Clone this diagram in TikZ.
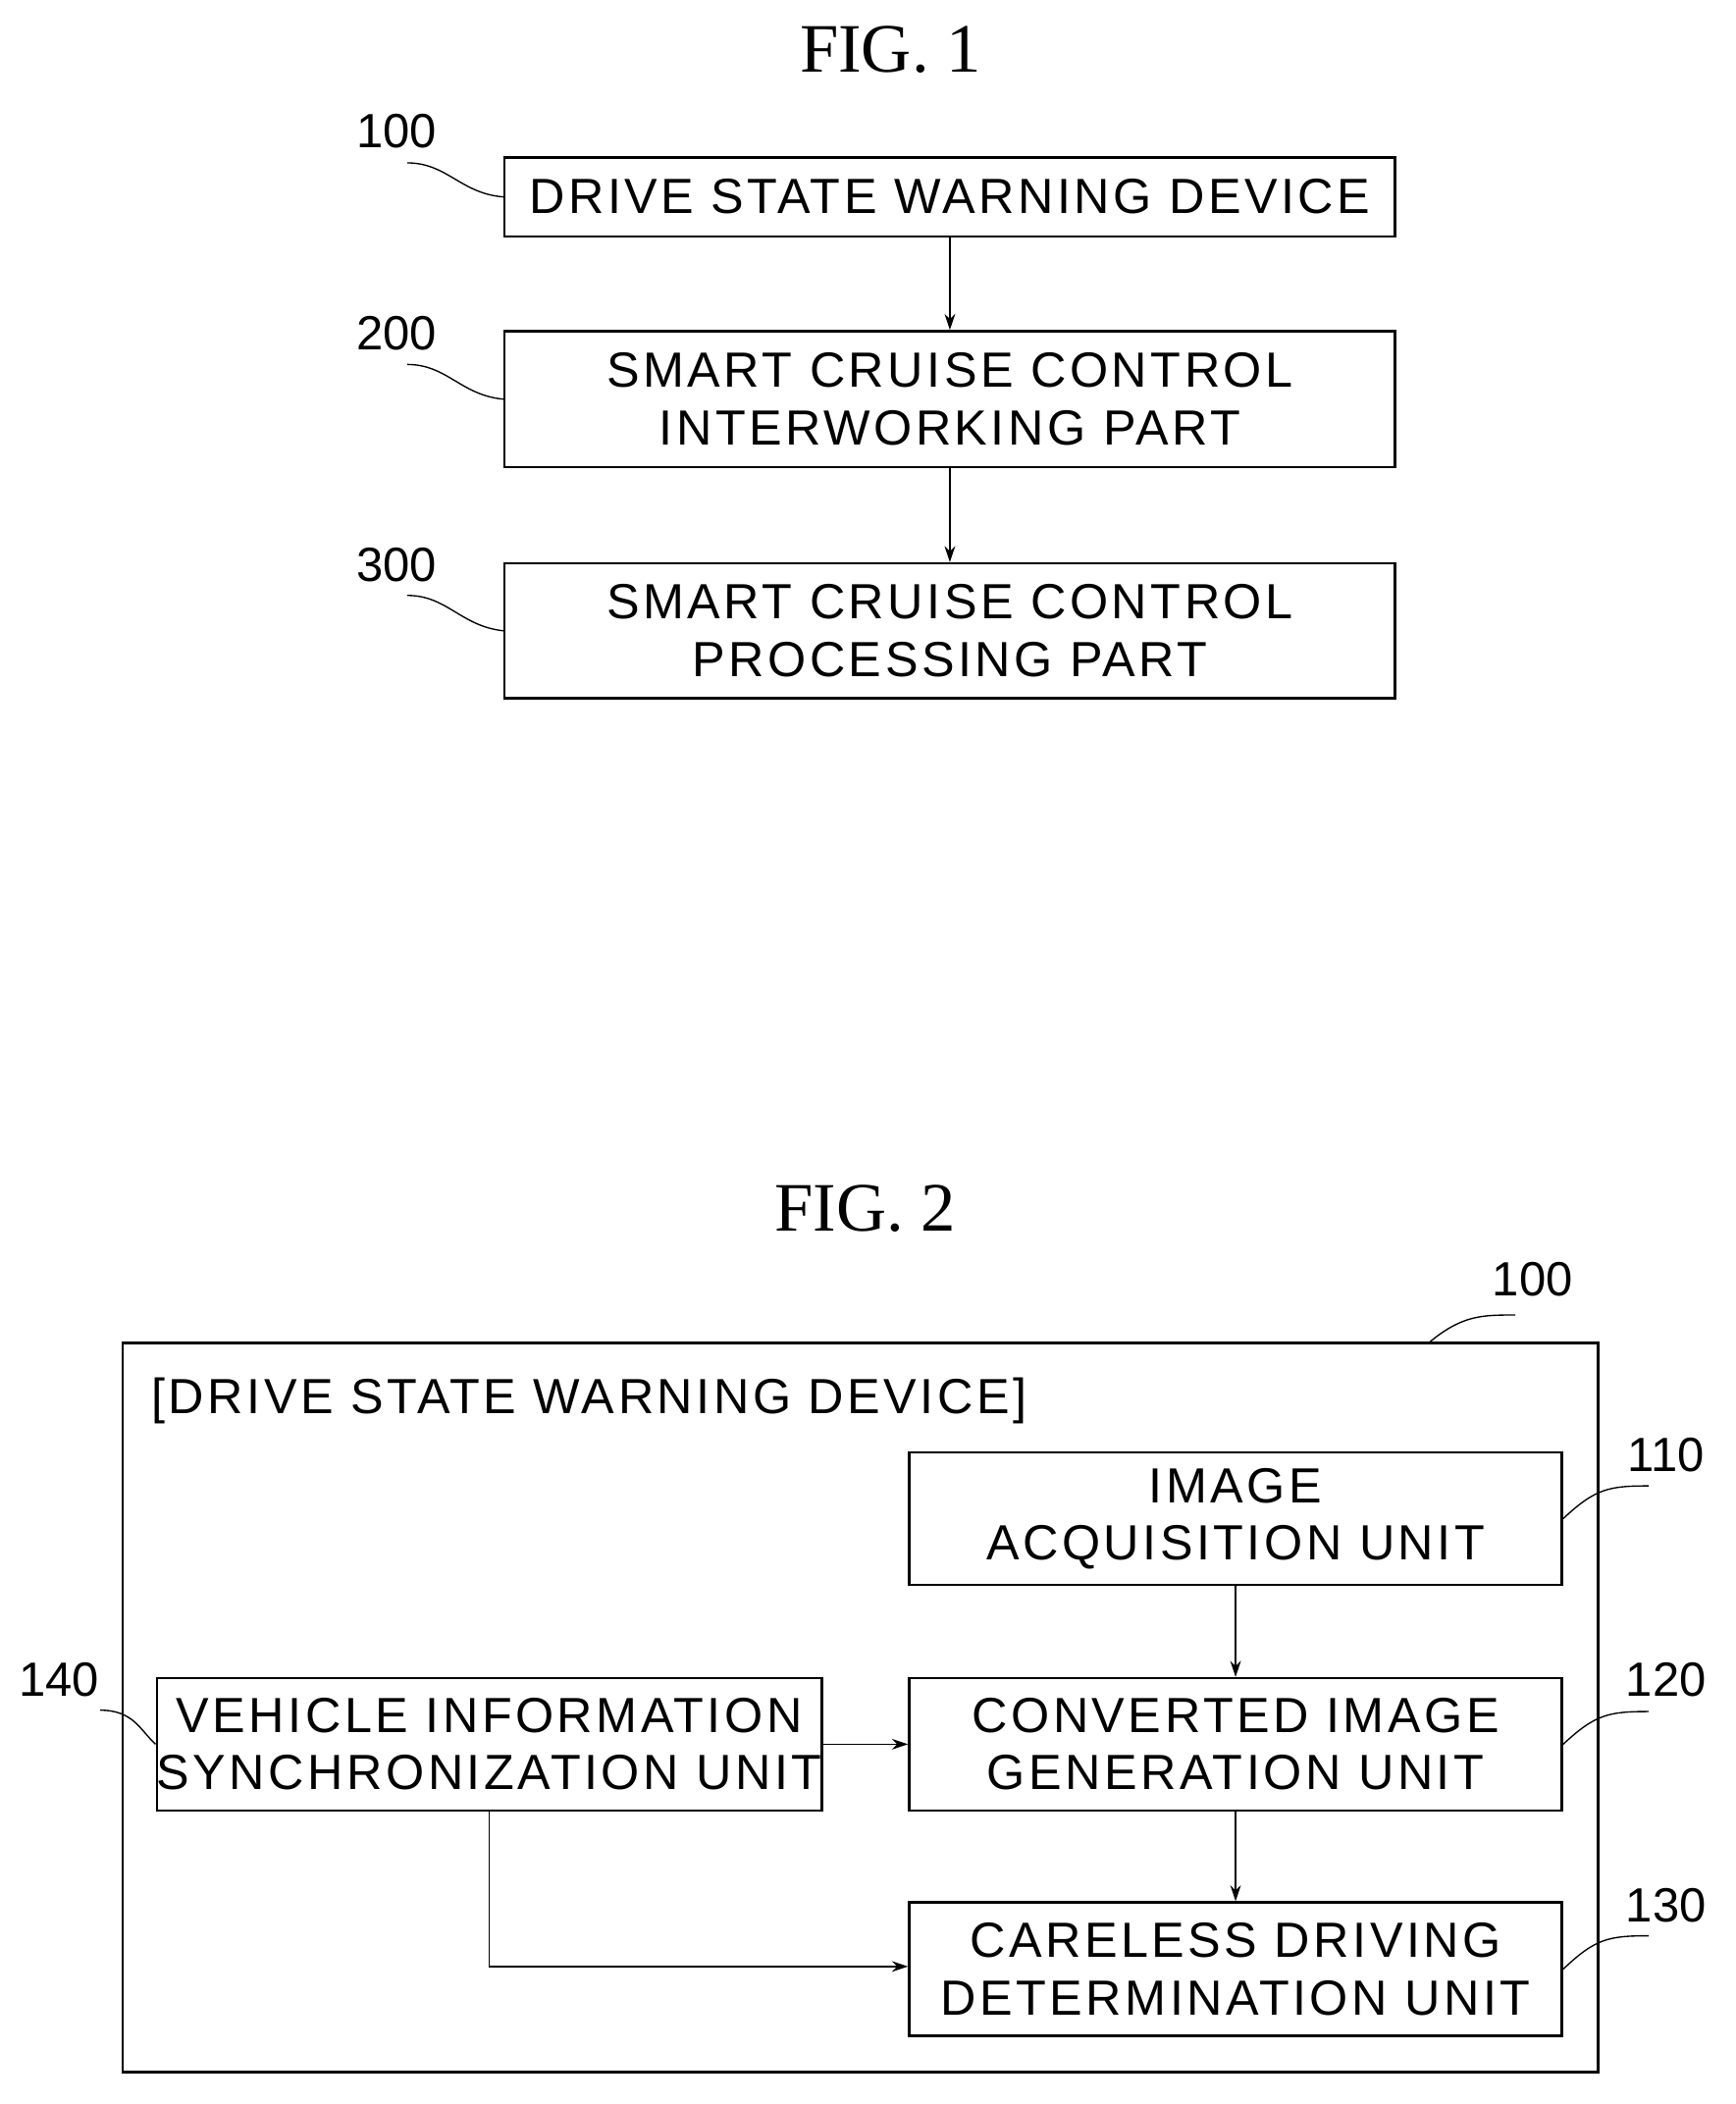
\documentclass[tikz,border=0pt]{standalone}
\usepackage{fontspec}
\setmainfont{Liberation Sans}[LetterSpace=7]
\newfontfamily\serifo{Liberation Serif}
\newfontfamily\numf{Liberation Sans}
\usetikzlibrary{arrows.meta}
\begin{document}
\begin{tikzpicture}[x=1pt,y=-1pt,
 box/.style={draw,line width=1.8pt,inner sep=0pt,align=center,font=\fontsize{37}{43}\selectfont},
 arr/.style={line width=1pt,-{Stealth[length=12pt,width=8pt]}},
 lead/.style={line width=1pt},
 num/.style={font=\numf\fontsize{36}{40}\selectfont},
 fig/.style={font=\serifo\fontsize{52}{60}\selectfont}]
\useasboundingbox (0,0) rectangle (1300,1576);
\node[fig] (f1) at (667,37) {FIG. 1};
\node[box,minimum width=667pt,minimum height=59pt] (b100) at (711.5,147.5) {DRIVE STATE WARNING DEVICE};
\node[box,minimum width=667pt,minimum height=102pt] (b200) at (711.5,299) {SMART CRUISE CONTROL\\INTERWORKING PART};
\node[box,minimum width=667pt,minimum height=101pt] (b300) at (711.5,472.5) {SMART CRUISE CONTROL\\PROCESSING PART};
\draw[arr] (b100) -- (b200);
\draw[arr] (b200) -- (b300);
\node[num] (n100) at (297,98) {100};
\node[num] (n200) at (297,250) {200};
\node[num] (n300) at (297,423) {300};
\draw[lead] (305,122) .. controls (335,122) and (345,145) .. (b100.west);
\draw[lead] (305,273) .. controls (335,273) and (345,296) .. (b200.west);
\draw[lead] (305,446) .. controls (335,446) and (345,469) .. (b300.west);

\node[fig] (f2) at (648,905) {FIG. 2};
\node[draw,line width=1.8pt,minimum width=1105pt,minimum height=546pt,inner sep=0pt] (outer) at (644.5,1279) {};
\node[font=\fontsize{37}{40}\selectfont,anchor=west] (title) at (110,1049) {[DRIVE STATE WARNING DEVICE]};
\node[box,minimum width=489pt,minimum height=99pt] (b110) at (925.5,1137.5) {IMAGE\\ACQUISITION UNIT};
\node[box,minimum width=489pt,minimum height=99pt] (b120) at (925.5,1306.5) {CONVERTED IMAGE\\GENERATION UNIT};
\node[box,minimum width=489pt,minimum height=100pt] (b130) at (925.5,1475) {CARELESS DRIVING\\DETERMINATION UNIT};
\node[box,minimum width=489pt,minimum height=99pt] (b140) at (366.5,1306.5) {VEHICLE INFORMATION\\SYNCHRONIZATION UNIT};
\draw[arr] (b110) -- (b120);
\draw[arr] (b120) -- (b130);
\draw[arr] (b140) -- (b120);
\draw[arr] (b140.south) |- (b130.west |- 0,1473);
\node[num] (n1) at (1148,958) {100};
\node[num] (n110) at (1248,1090) {110};
\node[num] (n120) at (1248,1258) {120};
\node[num] (n130) at (1248,1427) {130};
\node[num] (n140) at (44,1258) {140};
\draw[lead] (1070,1006) .. controls (1095,985) and (1110,985) .. (1135,985);
\draw[lead] (b110.east) .. controls (1195,1115) and (1205,1113) .. (1235,1113);
\draw[lead] (b120.east) .. controls (1195,1284) and (1205,1282) .. (1235,1282);
\draw[lead] (b130.east) .. controls (1195,1452) and (1205,1450) .. (1235,1450);
\draw[lead] (75,1281) .. controls (100,1281) and (105,1296) .. (b140.west);
\end{tikzpicture}
\end{document}
